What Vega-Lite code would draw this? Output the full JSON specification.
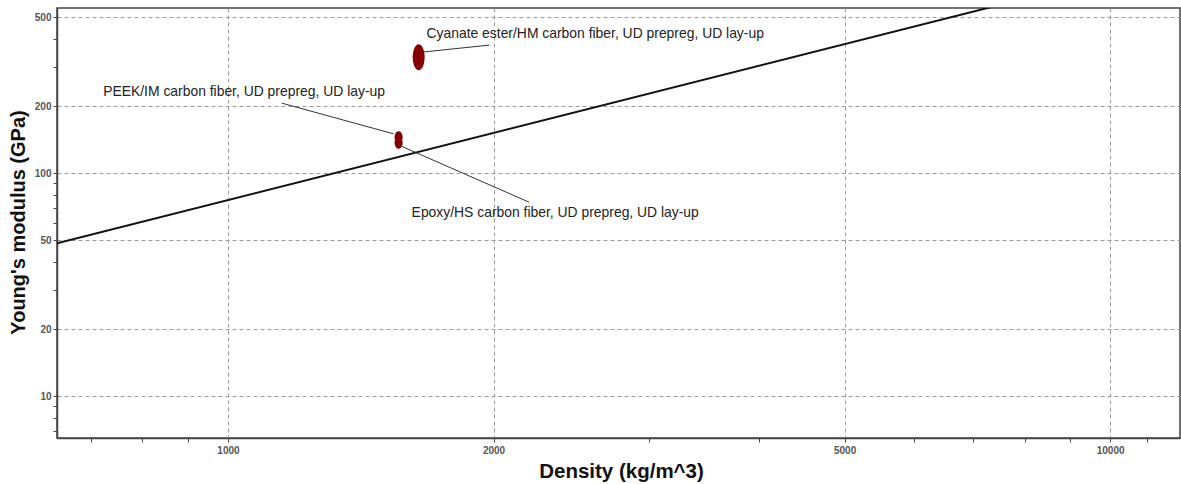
{
  "$schema": "https://vega.github.io/schema/vega-lite/v6.json",
  "width": 1123,
  "height": 430,
  "autosize": {"type": "none"},
  "padding": {"left": 57, "top": 8, "right": 1, "bottom": 46},
  "background": "white",
  "config": {
    "view": {"stroke": "#444", "strokeWidth": 1.5},
    "font": "Liberation Sans"
  },
  "datasets": {
    "materials": [
      {"material": "Cyanate ester/HM carbon fiber, UD prepreg, UD lay-up", "group": "large", "density": 1645, "modulus": 331},
      {"material": "PEEK/IM carbon fiber, UD prepreg, UD lay-up", "group": "small", "density": 1561, "modulus": 145},
      {"material": "Epoxy/HS carbon fiber, UD prepreg, UD lay-up", "group": "small", "density": 1561, "modulus": 137}
    ],
    "guide": [
      {"density": 640, "modulus": 48.5},
      {"density": 12000, "modulus": 909}
    ],
    "leaders": [
      {"material": "Cyanate ester/HM carbon fiber, UD prepreg, UD lay-up", "d1": 1662, "e1": 349, "d2": 1979, "e2": 375},
      {"material": "PEEK/IM carbon fiber, UD prepreg, UD lay-up", "d1": 1151, "e1": 206, "d2": 1541, "e2": 150},
      {"material": "Epoxy/HS carbon fiber, UD prepreg, UD lay-up", "d1": 1573, "e1": 132, "d2": 2195, "e2": 74.1}
    ],
    "labels": [
      {"material": "Cyanate ester/HM carbon fiber, UD prepreg, UD lay-up", "density": 1679, "modulus": 420},
      {"material": "PEEK/IM carbon fiber, UD prepreg, UD lay-up", "density": 722, "modulus": 231},
      {"material": "Epoxy/HS carbon fiber, UD prepreg, UD lay-up", "density": 1615, "modulus": 66.1}
    ]
  },
  "layer": [
    {
      "data": {"name": "guide"},
      "mark": {"type": "line", "color": "#111", "strokeWidth": 2, "clip": true},
      "encoding": {
        "x": {
          "field": "density", "type": "quantitative",
          "scale": {"type": "log", "domain": [640, 12000], "nice": false, "zero": false},
          "axis": {
            "title": "Density (kg/m^3)",
            "values": [700, 800, 900, 1000, 2000, 3000, 4000, 5000, 6000, 7000, 8000, 9000, 10000, 11000],
            "labelExpr": "indexof([1000,2000,5000,10000], datum.value) >= 0 ? datum.value : ''",
            "labelOverlap": false,
            "labelFontSize": 10,
            "labelColor": "#555",
            "labelFontWeight": "bold",
            "labelPadding": 3,
            "tickSize": 4,
            "tickColor": "#444",
            "domainColor": "#444",
            "domainWidth": 1.5,
            "grid": true,
            "gridColor": "#999",
            "gridDash": [4, 3],
            "gridOpacity": {"condition": {"test": "indexof([1000,2000,5000,10000], datum.value) >= 0", "value": 1}, "value": 0},
            "titleFontSize": 20.5,
            "titleFontWeight": "bold",
            "titleColor": "#111",
            "titleX": 564,
            "titleY": 33,
            "titleBaseline": "middle",
            "titleAnchor": null
          }
        },
        "y": {
          "field": "modulus", "type": "quantitative",
          "scale": {"type": "log", "domain": [6.5, 550], "nice": false, "zero": false},
          "axis": {
            "title": "Young's modulus (GPa)",
            "values": [7, 8, 9, 10, 20, 30, 40, 50, 60, 70, 80, 90, 100, 200, 300, 400, 500],
            "labelExpr": "indexof([10,20,50,100,200,500], datum.value) >= 0 ? datum.value : ''",
            "labelOverlap": false,
            "labelFontSize": 10,
            "labelColor": "#555",
            "labelFontWeight": "bold",
            "labelPadding": 2,
            "tickSize": 4,
            "tickColor": "#444",
            "domainColor": "#444",
            "domainWidth": 1.5,
            "grid": true,
            "gridColor": "#999",
            "gridDash": [4, 3],
            "gridOpacity": {"condition": {"test": "indexof([10,20,50,100,200,500], datum.value) >= 0", "value": 1}, "value": 0},
            "titleFontSize": 20,
            "titleFontWeight": "bold",
            "titleColor": "#111",
            "titleX": -39,
            "titleY": 214,
            "titleAngle": -90,
            "titleAlign": "center",
            "titleBaseline": "middle"
          }
        }
      }
    },
    {
      "data": {"name": "leaders"},
      "mark": {"type": "rule", "color": "#333", "strokeWidth": 1},
      "encoding": {
        "x": {"field": "d1", "type": "quantitative"},
        "x2": {"field": "d2"},
        "y": {"field": "e1", "type": "quantitative"},
        "y2": {"field": "e2"}
      }
    },
    {
      "data": {"name": "materials"},
      "transform": [{"filter": "datum.group === 'large'"}],
      "mark": {"type": "point", "filled": true, "color": "#850000", "opacity": 1, "size": 676,
               "shape": "M-0.46,0A0.46,1 0 1,0 0.46,0A0.46,1 0 1,0 -0.46,0Z"},
      "encoding": {
        "x": {"field": "density", "type": "quantitative"},
        "y": {"field": "modulus", "type": "quantitative"}
      }
    },
    {
      "data": {"name": "materials"},
      "transform": [{"filter": "datum.group === 'small'"}],
      "mark": {"type": "point", "filled": true, "color": "#850000", "opacity": 1, "size": 144,
               "shape": "M-0.67,0A0.67,1 0 1,0 0.67,0A0.67,1 0 1,0 -0.67,0Z"},
      "encoding": {
        "x": {"field": "density", "type": "quantitative"},
        "y": {"field": "modulus", "type": "quantitative"}
      }
    },
    {
      "data": {"name": "labels"},
      "mark": {"type": "text", "align": "left", "baseline": "middle", "fontSize": 13.9, "color": "#222", "font": "Liberation Sans"},
      "encoding": {
        "x": {"field": "density", "type": "quantitative"},
        "y": {"field": "modulus", "type": "quantitative"},
        "text": {"field": "material"}
      }
    }
  ]
}
